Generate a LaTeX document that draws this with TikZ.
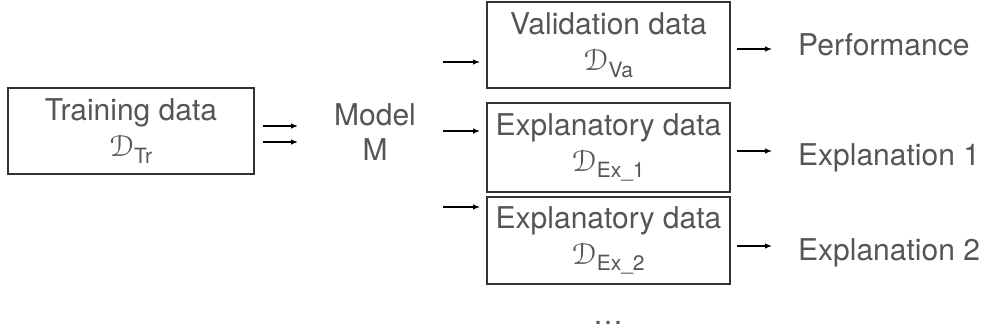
\documentclass[tikz,border=0pt]{standalone}
\usepackage{amsmath}
\usepackage{eucal}
\usepackage{fontspec}
\setmainfont{TeX Gyre Heros}
\usetikzlibrary{arrows.meta}
\definecolor{txtgray}{HTML}{555555}
\definecolor{boxline}{HTML}{333333}
\tikzset{
  box/.style={draw=boxline, line width=1.4pt, inner sep=0pt, align=center,
    text=txtgray, font=\fontsize{30}{36}\selectfont},
  lbl/.style={inner sep=0pt, align=center, text=txtgray,
    font=\fontsize{30}{35}\selectfont},
  arr/.style={line width=1.2pt, -{Latex[length=7pt,width=5.5pt]}}
}
\begin{document}
\begin{tikzpicture}[x=1pt,y=-1pt]
\useasboundingbox (0,0) rectangle (984,334);
% boxes
\node[box, minimum width=246pt, minimum height=86pt] (tr) at (131,131)
  {Training data\\$\mathcal{D}_{\text{Tr}}$};
\node[lbl] (m) at (375,132) {Model\\M};
\node[box, minimum width=243pt, minimum height=86pt] (va) at (608.5,45)
  {Validation data\\$\mathcal{D}_{\text{Va}}$};
\node[box, minimum width=243pt, minimum height=89pt] (e1) at (608.5,147.5)
  {Explanatory data\\$\mathcal{D}_{\text{Ex\_1}}$};
\node[box, minimum width=243pt, minimum height=87pt] (e2) at (608.5,240.5)
  {Explanatory data\\$\mathcal{D}_{\text{Ex\_2}}$};
\node[lbl, anchor=base west] (perf) at (798,56) {Performance};
\node[lbl, anchor=base west] (x1) at (798,165) {Explanation 1};
\node[lbl, anchor=base west] (x2) at (798,260) {Explanation 2};
\node[lbl, anchor=base] (dots) at (608,324.5) {…};
% arrow end points
\coordinate (t1s) at (263,126); \coordinate (t1e) at (298,126);
\coordinate (t2s) at (263,142); \coordinate (t2e) at (298,142);
\coordinate (vas) at (443,62);  \coordinate (vae) at (480,62);
\coordinate (e1s) at (443,131); \coordinate (e1e) at (480,131);
\coordinate (e2s) at (443,207); \coordinate (e2e) at (480,207);
\coordinate (pos) at (737,49);  \coordinate (poe) at (772,49);
\coordinate (x1s) at (737,151); \coordinate (x1e) at (772,151);
\coordinate (x2s) at (737,246); \coordinate (x2e) at (772,246);
% arrows
\draw[arr] (t1s) -- (t1e);
\draw[arr] (t2s) -- (t2e);
\draw[arr] (vas) -- (vae);
\draw[arr] (e1s) -- (e1e);
\draw[arr] (e2s) -- (e2e);
\draw[arr] (pos) -- (poe);
\draw[arr] (x1s) -- (x1e);
\draw[arr] (x2s) -- (x2e);
\end{tikzpicture}
\end{document}
